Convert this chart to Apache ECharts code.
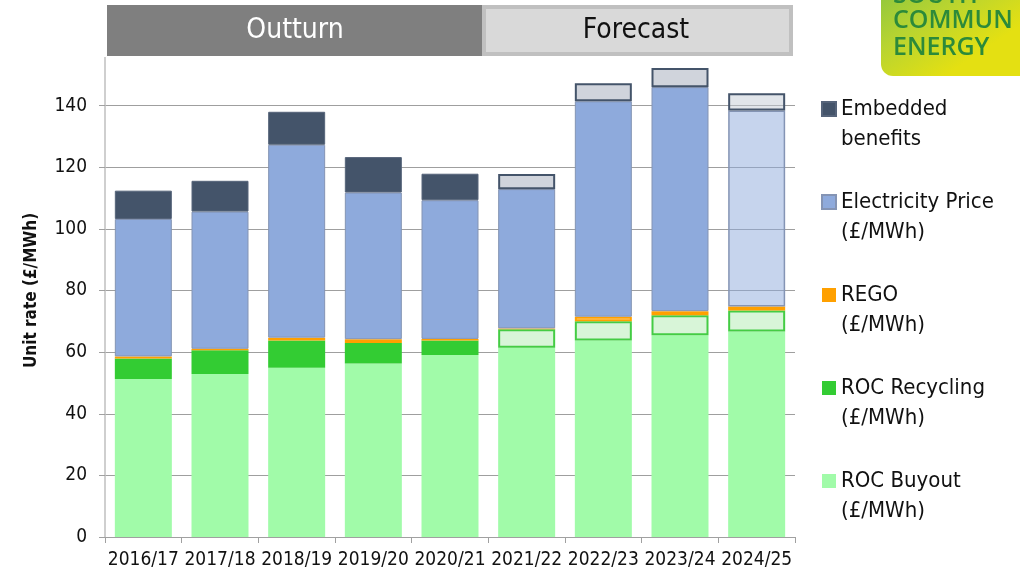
<!DOCTYPE html>
<html>
<head>
<meta charset="utf-8">
<script src="https://cdn.jsdelivr.net/npm/echarts@6/dist/echarts.min.js"></script>
<style>
html,body{margin:0;padding:0;background:#fff;}
#chart{width:1020px;height:573px;}
</style>
</head>
<body>
<div id="chart"></div>
<script>
// ---- data ----
const categories = ['2016/17','2017/18','2018/19','2019/20','2020/21','2021/22','2022/23','2023/24','2024/25'];
const rocBuyout    = [51.3, 52.9, 54.9, 56.3, 59.1, 61.4, 63.8, 65.5, 66.7];
const rocRecycling = [6.6, 7.7, 8.9, 6.7, 4.7, 6.0, 6.2, 6.5, 6.8];
const rego         = [0.7, 0.5, 0.9, 1.2, 0.5, 0.3, 1.5, 1.3, 1.3];
const elecPrice    = [44.6, 44.5, 62.6, 47.6, 45.0, 45.2, 69.9, 72.7, 63.6];
const embedded     = [9.2, 10.0, 10.7, 11.5, 8.6, 4.9, 5.9, 6.2, 5.6];
const yTicks = [0, 20, 40, 60, 80, 100, 120, 140];
const seriesNames = ['ROC Buyout\n(£/MWh)','ROC Recycling\n(£/MWh)','REGO\n(£/MWh)','Electricity Price\n(£/MWh)','Embedded\nbenefits'];
const firstForecast = 5;

const FONT = "'Liberation Sans Narrow','DejaVu Sans Condensed','Liberation Sans',sans-serif";

function styled(values, forecastStyle, lastStyle) {
  return values.map((v, i) => {
    if (i === values.length - 1 && lastStyle) return {value: v, itemStyle: lastStyle};
    if (i >= firstForecast && forecastStyle) return {value: v, itemStyle: forecastStyle};
    return {value: v};
  });
}

const regoData = rego.map((v, i) => {
  if (i === 6) return {value: v, itemStyle: {color: '#fff0dc', borderColor: '#ffa000', borderWidth: 2}};
  return {value: v};
});

const chart = echarts.init(document.getElementById('chart'), null, {renderer: 'canvas'});
const option = {
  animation: false,
  backgroundColor: '#fff',
  grid: {left: 105, right: 225, top: 44, bottom: 36, containLabel: false},
  xAxis: {
    type: 'category',
    data: categories,
    axisLine: {lineStyle: {color: '#a0a0a0', width: 1}},
    axisTick: {show: true, length: 6, lineStyle: {color: '#a0a0a0'}},
    axisLabel: {color: '#111', fontSize: 19, fontFamily: FONT, margin: 14, interval: 0}
  },
  yAxis: {
    type: 'value',
    min: 0, max: 160, interval: 20,
    name: 'Unit rate (£/MWh)',
    nameLocation: 'middle',
    nameGap: 65,
    nameTextStyle: {color: '#111', fontSize: 17, fontWeight: 'bold', fontFamily: "'DejaVu Sans Condensed','Liberation Sans',sans-serif"},
    axisLine: {show: true, lineStyle: {color: '#bfbfbf', width: 1.5}},
    axisTick: {show: true, length: 6, lineStyle: {color: '#a0a0a0'}},
    axisLabel: {color: '#111', fontSize: 19, fontFamily: FONT, margin: 18,
      formatter: v => (yTicks.indexOf(v) >= 0 ? String(v) : '')},
    splitLine: {lineStyle: {color: '#9f9f9f', width: 1.2}}
  },
  legend: {
    orient: 'vertical',
    left: 821,
    top: 64,
    padding: 0,
    itemWidth: 14,
    itemHeight: 14,
    itemGap: 3,
    icon: 'rect',
    data: [seriesNames[4], seriesNames[3], seriesNames[2], seriesNames[1], seriesNames[0]],
    formatter: name => ' \n' + name,
    textStyle: {color: '#111', fontSize: 22, lineHeight: 30, fontFamily: FONT}
  },
  series: [
    {
      name: seriesNames[0], type: 'bar', stack: 'a', barWidth: 57,
      itemStyle: {color: '#a1fba9'},
      data: rocBuyout
    },
    {
      name: seriesNames[1], type: 'bar', stack: 'a', barWidth: 57,
      itemStyle: {color: '#33cc33'},
      data: styled(rocRecycling, {color: '#d8f5d8', borderColor: '#44cc44', borderWidth: 2})
    },
    {
      name: seriesNames[2], type: 'bar', stack: 'a', barWidth: 57,
      itemStyle: {color: '#ffa000'},
      data: regoData
    },
    {
      name: seriesNames[3], type: 'bar', stack: 'a', barWidth: 57,
      itemStyle: {color: '#8eaadc', borderColor: '#8494b4', borderWidth: 1},
      data: styled(elecPrice, null, {color: 'rgba(142,170,220,0.5)', borderColor: '#8494b4', borderWidth: 1.5})
    },
    {
      name: seriesNames[4], type: 'bar', stack: 'a', barWidth: 57,
      itemStyle: {color: '#44546a', borderColor: '#56647a', borderWidth: 1},
      data: styled(embedded, {color: '#d0d4dc', borderColor: '#44546a', borderWidth: 2},
        {color: 'rgba(196,204,214,0.5)', borderColor: '#44546a', borderWidth: 2})
    }
  ],
  graphic: [
    {type: 'rect', x: 95, y: 0, shape: {width: 705, height: 57}, style: {fill: '#fff'}, z: 50},
    {type: 'rect', x: 107, y: 5, shape: {width: 375, height: 51}, style: {fill: '#7f7f7f'}, z: 51},
    {type: 'text', z: 53, x: 295, y: 31,
      style: {text: 'Outturn', fill: '#fff', font: "28px 'Liberation Sans Narrow','DejaVu Sans Condensed',sans-serif", align: 'center', verticalAlign: 'middle'}},
    {type: 'rect', x: 482, y: 5, shape: {width: 311, height: 51}, style: {fill: '#c0c0c0'}, z: 51},
    {type: 'rect', x: 486, y: 9, shape: {width: 303, height: 43}, style: {fill: '#d9d9d9'}, z: 52},
    {type: 'text', z: 53, x: 636, y: 31,
      style: {text: 'Forecast', fill: '#111', font: "28px 'Liberation Sans Narrow','DejaVu Sans Condensed',sans-serif", align: 'center', verticalAlign: 'middle'}},
    {type: 'rect', x: 881, y: -20, z: 40,
      shape: {width: 160, height: 96, r: [0, 0, 0, 12]},
      style: {fill: new echarts.graphic.LinearGradient(0, 0, 0.4, 1, [
        {offset: 0, color: '#88c440'}, {offset: 0.5, color: '#b8d430'}, {offset: 1, color: '#e4e012'}])}},
    {type: 'text', x: 893, y: -17, z: 41,
      style: {text: 'SOUTH', fill: '#2c8a3a', font: "600 25px 'Open Sans','DejaVu Sans',sans-serif"}},
    {type: 'text', x: 893, y: 8, z: 41,
      style: {text: 'COMMUN', fill: '#2c8a3a', font: "600 25px 'Open Sans','DejaVu Sans',sans-serif"}},
    {type: 'text', x: 893, y: 35, z: 41,
      style: {text: 'ENERGY', fill: '#2c8a3a', font: "600 25px 'Open Sans','DejaVu Sans',sans-serif"}}
  ]
};
chart.setOption(option);
</script>
</body>
</html>
